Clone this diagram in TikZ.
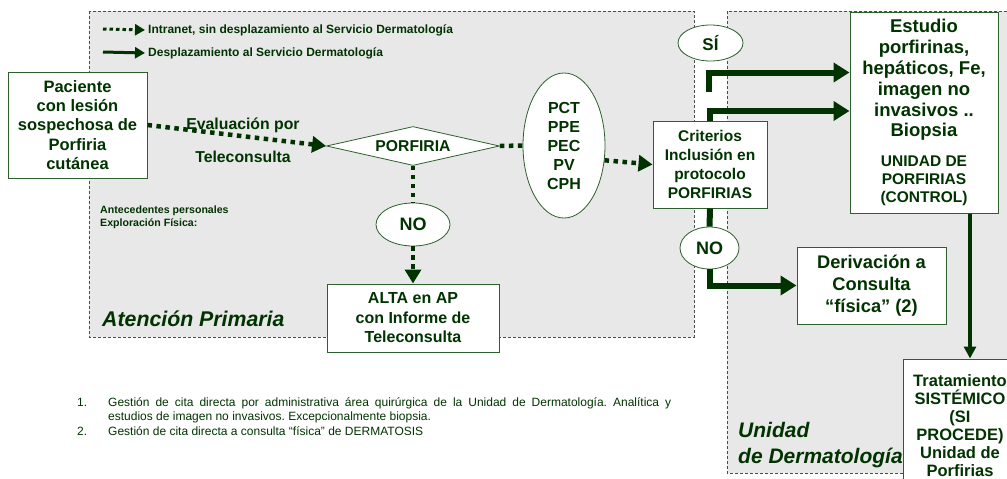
\documentclass[tikz,border=0pt]{standalone}
\usepackage{fontspec}
\setmainfont{Liberation Sans}
\usetikzlibrary{shapes.geometric,arrows.meta,positioning}
\definecolor{dgreen}{RGB}{0,51,0}
\definecolor{bgreen}{RGB}{45,95,45}
\definecolor{zonegray}{RGB}{232,232,232}
\def\fs#1#2{\fontsize{#1}{#2}\selectfont}
\frenchspacing

\tikzset{
  box/.style={draw=bgreen, fill=white, line width=1pt, align=center, text=dgreen, font=\bfseries, inner sep=0pt},
  oval/.style={ellipse, draw=bgreen, fill=white, line width=0.8pt, align=center, text=dgreen, font=\bfseries, inner sep=0pt},
  zone/.style={fill=zonegray, draw=black!70, line width=0.7pt, dash pattern=on 3pt off 2pt},
  label/.style={text=dgreen, inner sep=0pt},
  teleline/.style={draw=dgreen, line width=4.5pt, dash pattern=on 4.5pt off 4.5pt},
  tele/.style={teleline, -{Triangle[length=14pt,width=16pt]}},
  desplline/.style={draw=dgreen, line width=6pt},
  despl/.style={desplline, -{Triangle[length=16pt,width=19pt]}},
  despl thin/.style={draw=dgreen, line width=3.5pt, -{Triangle[length=12pt,width=12pt]}},
}

\begin{document}
\begin{tikzpicture}[x=1pt,y=-1pt]
\useasboundingbox (0,0) rectangle (1007,479);

% Draw zones
\draw[zone] (89,11) rectangle (694,337);
\draw[zone] (727,11) rectangle (1030,473);
\node[label, anchor=west, font=\bfseries\itshape\fs{21.3}{26}] (ap) at (102,319) {Atención Primaria};
\node[label, anchor=west, align=left, font=\bfseries\itshape\fs{21}{26}] (ud) at (738,445) {Unidad\\de Dermatología};

% Draw legend
\coordinate (leg1) at (103,29);
\coordinate (leg2) at (103,52);
\node[label, anchor=west, font=\bfseries\fs{12}{14}] (legtele) at (148,30) {Intranet, sin desplazamiento al Servicio Dermatología};
\node[label, anchor=west, font=\bfseries\fs{12}{14}] (legdespl) at (148,53) {Desplazamiento al Servicio Dermatología};
\draw[draw=dgreen, line width=3pt, dash pattern=on 3.5pt off 3pt, -{Triangle[length=10pt,width=11pt]}] (leg1) -- ([xshift=-3pt]legtele.west);
\draw[draw=dgreen, line width=3pt, -{Triangle[length=10pt,width=11pt]}] (leg2) -- ([xshift=-3pt]legdespl.west);

% Draw nodes
\node[box, minimum width=139pt, minimum height=106pt, font=\bfseries\fs{16.5}{19.3}] (paciente) at (77.5,125) {Paciente\\con lesión\\sospechosa de\\Porfiria\\cutánea};
\node[label, align=center, font=\bfseries\fs{15.8}{33}] (evaltxt) at (243,140.5) {Evaluación por\\Teleconsulta};
\node[box, diamond, aspect=4.4, minimum width=173pt, minimum height=39pt, line width=0.8pt, font=\bfseries\fs{15.7}{18}] (porfiria) at (413,146) {PORFIRIA};
\node[label, align=left, anchor=north west, font=\bfseries\fs{10.6}{13}] (antec) at (100,206) {Antecedentes personales\\Exploración Física:};
\node[oval, minimum width=74pt, minimum height=43pt, font=\bfseries\fs{18}{20}] (noap) at (413,224.5) {NO};
\node[box, minimum width=172pt, minimum height=68pt, font=\bfseries\fs{16}{19.5}] (alta) at (413,318) {ALTA en AP\\con Informe de\\Teleconsulta};
\node[oval, minimum width=82pt, minimum height=145pt, font=\bfseries\fs{16}{19}] (tipos) at (564,145.5) {PCT\\PPE\\PEC\\PV\\CPH};
\node[box, minimum width=114pt, minimum height=87pt, font=\bfseries\fs{15.5}{19.3}] (criterios) at (710,164.5) {Criterios\\Inclusión en\\protocolo\\PORFIRIAS};
\node[oval, minimum width=65pt, minimum height=36pt, font=\bfseries\fs{17}{20}] (si) at (710.5,43) {SÍ};
\node[oval, minimum width=59pt, minimum height=42pt, font=\bfseries\fs{18}{20}] (nodes) at (709.5,248) {NO};
\node[box, minimum width=148pt, minimum height=201pt, font=\bfseries\fs{18.5}{20.8}] (estudio) at (924,112.5) {Estudio\\porfirinas,\\hepáticos, Fe,\\imagen no\\invasivos ..\\Biopsia\\[9pt]{\fs{15.5}{18}UNIDAD DE}\\[-3pt]{\fs{15.5}{18}PORFIRIAS}\\[-3pt]{\fs{15.5}{18}(CONTROL)}};
\node[box, minimum width=149pt, minimum height=77pt, font=\bfseries\fs{18.3}{22}] (derivacion) at (871.5,285.5) {Derivación a\\Consulta\\“física” (2)};
\node[box, minimum width=114pt, minimum height=134pt, font=\bfseries\fs{16.5}{18}] (tratamiento) at (960,426) {Tratamiento\\SISTÉMICO\\(SI\\PROCEDE)\\Unidad de\\Porfirias};

% Draw footnotes
\node[label, anchor=north west, font=\fs{12}{14.5}] (notas) at (72,396) {%
  \begin{tabular}{@{}p{36pt}@{}p{563pt}@{}}
  \hspace*{5pt}1. & Gestión de cita directa por administrativa área quirúrgica de la Unidad de Dermatología. Analítica y\linebreak estudios de imagen no invasivos. Excepcionalmente biopsia.\\
  \hspace*{5pt}2. & Gestión de cita directa a consulta “física” de DERMATOSIS
  \end{tabular}};

% Draw connectors
\draw[tele] (paciente.east) -- (porfiria.west);
\draw[teleline] (porfiria.east) -- (tipos.west);
\draw[tele] (tipos.-20) -- (criterios.west);
\draw[teleline] (porfiria.south) -- (noap.north);
\draw[tele] (noap.south) -- (alta.north);

\coordinate (sitop) at (709,92);
\draw[despl] (sitop) |- ([yshift=40pt]estudio.west);
\draw[despl] (criterios.north) |- ([yshift=1.5pt]estudio.west);
\draw[desplline] (criterios.south) -- (nodes.north);
\draw[despl] (nodes.south) |- (derivacion.west);
\draw[despl thin] ([xshift=46pt]estudio.south) -- ([xshift=46pt]estudio.south |- tratamiento.north);
\end{tikzpicture}
\end{document}
